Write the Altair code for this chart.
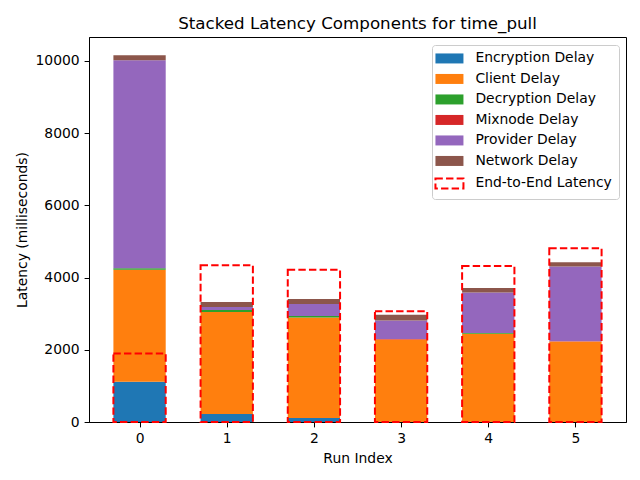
import altair as alt
import pandas as pd

runs = [0, 1, 2, 3, 4, 5]
components = ["Encryption Delay", "Client Delay", "Decryption Delay",
              "Mixnode Delay", "Provider Delay", "Network Delay"]
encryption = [1117, 222, 111, 3, 3, 3]
client = [3100, 2828, 2781, 2280, 2440, 2224]
decryption = [40, 55, 47, 2, 20, 3]
mixnode = [0, 0, 0, 12, 0, 10]
provider = [5760, 83, 332, 516, 1122, 2066]
network = [139, 139, 139, 160, 130, 122]
end_to_end = [1894, 4344, 4214, 3069, 4320, 4815]

colors = ["#1f77b4", "#ff7f0e", "#2ca02c", "#d62728", "#9467bd", "#8c564b"]
legend_domain = components + ["End-to-End Latency"]
legend_range = colors + ["#ffffff"]

series = [encryption, client, decryption, mixnode, provider, network]
rows = []
for ci, (name, vals) in enumerate(zip(components, series)):
    for r, v in zip(runs, vals):
        rows.append({"run": r, "component": name, "ord": ci, "value": v})
df = pd.DataFrame(rows)
e2e_df = pd.DataFrame({"run": runs, "e2e": end_to_end})

FONT = "DejaVu Sans"
xscale = alt.Scale(domain=[-0.58, 5.58], nice=False, zero=False)
yscale = alt.Scale(domain=[0, 10664], nice=False)

is_e2e = "datum.value === 'End-to-End Latency'"

bars = alt.Chart(df).transform_stack(
    stack="value", groupby=["run"], as_=["y0", "y1"],
    sort=[alt.SortField("ord", order="ascending")]
).transform_calculate(
    xl="datum.run - 0.3", xr="datum.run + 0.3"
).mark_rect().encode(
    x=alt.X("xl:Q", scale=xscale, title="Run Index",
            axis=alt.Axis(values=runs, format="d")),
    x2="xr:Q",
    y=alt.Y("y0:Q", scale=yscale, title="Latency (milliseconds)",
            axis=alt.Axis(values=[0, 2000, 4000, 6000, 8000, 10000], format="d")),
    y2="y1:Q",
    fill=alt.Fill("component:N",
                  scale=alt.Scale(domain=legend_domain, range=legend_range),
                  legend=alt.Legend(
                      title=None, orient="top-right", offset=7.5,
                      symbolType="M-2,-0.714H2V0.714H-2Z", symbolSize=196,
                      symbolOpacity=1, symbolOffset=4,
                      symbolStrokeColor=alt.ExprRef(expr=f"{is_e2e} ? '#ff0000' : 'transparent'"),
                      symbolStrokeWidth=alt.ExprRef(expr=f"{is_e2e} ? 2 : 0"),
                      symbolDash=alt.ExprRef(expr=f"{is_e2e} ? [7.4, 3.2] : [1, 0]"),
                      labelFont=FONT, labelFontSize=13.9, labelColor="black",
                      labelOffset=19, rowPadding=5.5, padding=6.5,
                      fillColor="rgba(255,255,255,0.8)", strokeColor="#cccccc",
                      cornerRadius=3, labelLimit=300,
                  )),
)

e2e = alt.Chart(e2e_df).transform_calculate(
    xl="datum.run - 0.3", xr="datum.run + 0.3", zero="0"
).mark_rect(filled=False, stroke="#ff0000", strokeWidth=2,
            strokeDash=[7.4, 3.2]).encode(
    x=alt.X("xl:Q", scale=xscale),
    x2="xr:Q",
    y=alt.Y("e2e:Q", scale=yscale),
    y2="zero:Q",
)

chart = alt.layer(bars, e2e).properties(
    width=537, height=385,
    background="white",
    title=alt.TitleParams("Stacked Latency Components for time_pull",
                          font=FONT, fontSize=16.7, fontWeight="normal",
                          color="black", anchor="middle", baseline="bottom",
                          frame="group", offset=5.5, dy=18),
    autosize=alt.AutoSizeParams(type="none"),
    padding={"left": 89, "top": 37, "right": 14, "bottom": 58},
).configure_view(
    stroke="black", strokeWidth=1
).configure_axis(
    grid=False, domainColor="black", tickColor="black", tickSize=4.9,
    labelPadding=4.9, labelFont=FONT, labelFontSize=13.9, labelColor="black",
    titleFont=FONT, titleFontSize=13.9, titleFontWeight="normal",
    titleColor="black", titlePadding=5.6,
)

chart.save("out.html", embed_options={"renderer": "svg", "actions": False})
